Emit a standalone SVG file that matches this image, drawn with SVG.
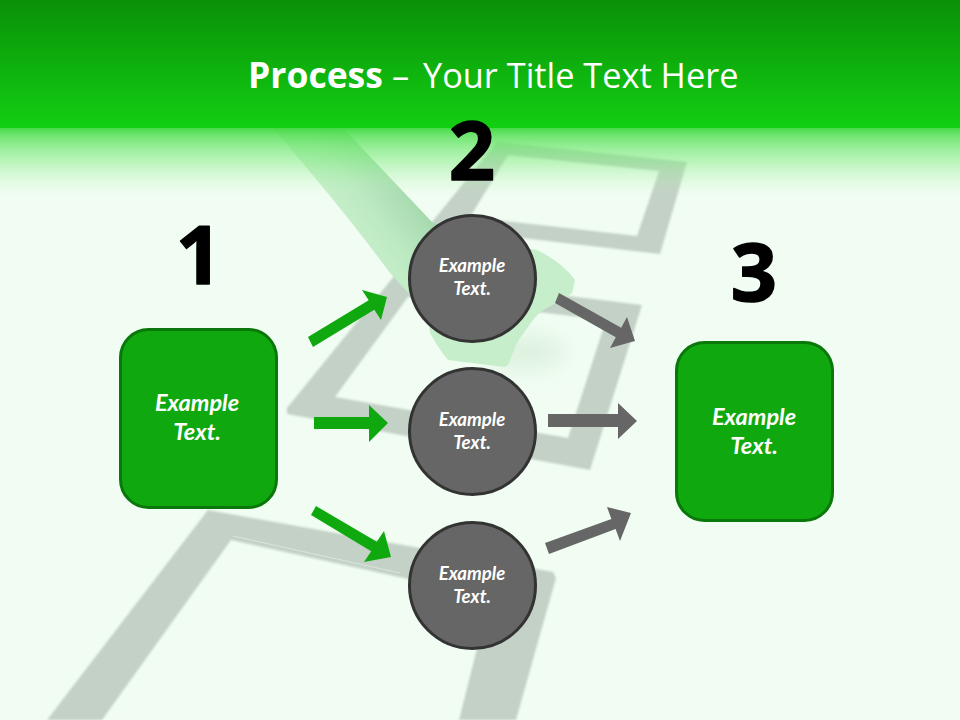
<svg xmlns="http://www.w3.org/2000/svg" width="960" height="720" viewBox="0 0 960 720">
<defs>
<linearGradient id="hdr" x1="0" y1="0" x2="0" y2="1"><stop offset="0" stop-color="#0a9009"/><stop offset="1" stop-color="#12cf12"/></linearGradient>
<linearGradient id="fade" x1="0" y1="0" x2="0" y2="1">
<stop offset="0" stop-color="#3fd83f" stop-opacity=".95"/>
<stop offset=".1" stop-color="#55e055" stop-opacity=".85"/>
<stop offset=".28" stop-color="#70e870" stop-opacity=".7"/>
<stop offset=".5" stop-color="#80ec80" stop-opacity=".48"/>
<stop offset=".75" stop-color="#a0f0a0" stop-opacity=".25"/>
<stop offset="1" stop-color="#c0f5c0" stop-opacity="0"/></linearGradient>
<filter id="soft" x="-20%" y="-20%" width="140%" height="140%"><feGaussianBlur stdDeviation="1"/></filter>
<filter id="blur" x="-50%" y="-50%" width="200%" height="200%"><feGaussianBlur stdDeviation="11"/></filter>
<linearGradient id="strap" gradientUnits="userSpaceOnUse" x1="300" y1="200" x2="372" y2="146"><stop offset="0" stop-color="#cdf2d0"/><stop offset=".55" stop-color="#bdeac2"/><stop offset="1" stop-color="#a8dab0"/></linearGradient>
</defs>
<style>
.frame{fill:#c3d1c6;fill-rule:evenodd}
.box{fill:#0fa90f;stroke:#0a770a;stroke-width:3}
.disc{fill:#666;stroke:#333;stroke-width:3}
.lbl{font-family:Lato,"Liberation Sans",sans-serif;font-weight:700;font-style:italic;fill:#fff;text-anchor:middle}
.sm{font-size:18.600px}
.lg{font-size:23.500px}
.num{font-family:"Open Sans","Liberation Sans",sans-serif;font-weight:700;font-size:81px;fill:#000;stroke:#000;stroke-width:1.500px;stroke-linejoin:round;text-anchor:middle}
.ttl{font-family:"Open Sans","Liberation Sans",sans-serif;fill:#fff}
.g{fill:#0fa90f}
.k{fill:#666}
</style>
<rect width="960" height="720" fill="#f1fdf2"/>
<g id="backdrop">
<path class="frame" filter="url(#soft)" d="M497 142L687 162L660 254L420 226L432 222ZM508 155L470 217L637 236L659 171Z"/>
<path class="frame" filter="url(#soft)" d="M395 275L642 305L590 470L287 414L287 408ZM408 297L335 397L568 438L606 320Z"/>
<path class="frame" filter="url(#soft)" d="M208 510L553 572L556 578L516 720L459 720L490 597L231 540L102 720L47 720Z"/>
<path d="M233 536L400 573" stroke="#e8f4ea" stroke-width="1" stroke-opacity=".6" fill="none"/>
<ellipse cx="525" cy="352" rx="40" ry="18" fill="#b9dcbd" opacity=".35" filter="url(#blur)"/>
<path fill="url(#strap)" d="M273 128L343 128L432 222L470 240L470 290L412 297L390 273Q345 212 273 128Z"/>
<path fill="#c6eecb" d="M470 240L537 250Q562 262 575 280L572 293Q560 302 547 308Q538 313 533 320Q522 335 517 343L508 365L505 367L448 360Q438 348 430 333L425 300L470 290Z"/>
<rect x="0" y="128" width="960" height="68" fill="url(#fade)"/>
<rect x="0" y="0" width="960" height="128" fill="url(#hdr)"/>
</g>
<g id="title"><text class="ttl" y="88"><tspan x="248" font-size="35.500" font-weight="700">Process</tspan><tspan x="392" font-size="34.300">–</tspan><tspan x="423" font-size="34.300">Your Title Text Here</tspan></text></g>
<g id="connectors">
<polygon class="g" points="308,337 368.7,300.3 362,290 387,297 381,320 374.3,309.7 313,347"/>
<polygon class="g" points="314,417 369,417 369,405 388,423 369,442 369,429 314,429"/>
<polygon class="g" points="316,506 376.8,541.8 384,531 391,557 364,562 371.2,551.2 311,515"/>
<polygon class="k" points="559,293 621.2,327.7 627,317 635,341 610,348 615.8,337.3 555,303"/>
<polygon class="k" points="548,414 618,414 618,403 637,421 618,439 618,427 548,427"/>
<polygon class="k" points="545,543 611.4,518.9 607,507 631,513 620,541 615.6,529.1 549,554"/>
</g>
<g id="node-box1"><rect class="box" x="120.500" y="329.500" width="156" height="178" rx="28"/><text class="lbl lg" x="197" y="411">Example</text><text class="lbl lg" x="197" y="440">Text.</text></g>
<g id="node-c1"><circle class="disc" cx="472.500" cy="278.500" r="63"/><text class="lbl sm" x="472" y="272">Example</text><text class="lbl sm" x="472" y="295">Text.</text></g>
<g id="node-c2"><circle class="disc" cx="472.500" cy="431.500" r="63"/><text class="lbl sm" x="472" y="426">Example</text><text class="lbl sm" x="472" y="449">Text.</text></g>
<g id="node-c3"><circle class="disc" cx="472.500" cy="585.500" r="63"/><text class="lbl sm" x="472" y="580">Example</text><text class="lbl sm" x="472" y="603">Text.</text></g>
<g id="node-box3"><rect class="box" x="676.500" y="342.500" width="156" height="178" rx="28"/><text class="lbl lg" x="754" y="425">Example</text><text class="lbl lg" x="754" y="454">Text.</text></g>
<g id="numbers"><text class="num" x="199" y="284">1</text><text class="num" x="472" y="180">2</text><text class="num" x="754" y="301">3</text></g>
</svg>
